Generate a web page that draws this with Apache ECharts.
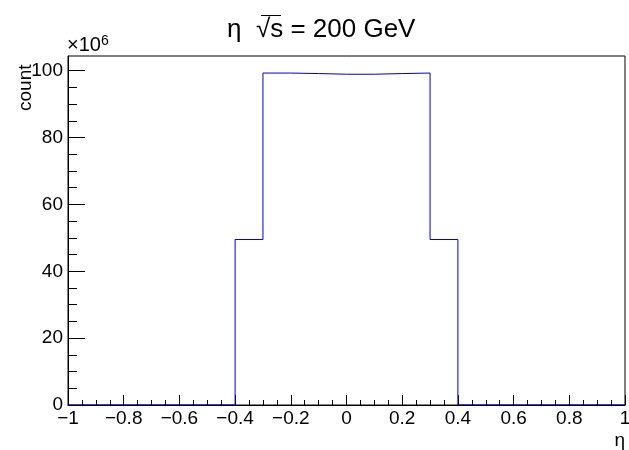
<!DOCTYPE html>
<html>
<head>
<meta charset="utf-8">
<title>eta</title>
<script src="https://cdn.jsdelivr.net/npm/echarts@6/dist/echarts.min.js"></script>
<style>
  html, body { margin: 0; padding: 0; background: #fff; }
  #chart { width: 629px; height: 450px; }
</style>
</head>
<body>
<div id="chart"></div>
<script>
// histogram bins (low edges) and counts in units of 10^6
const binLow = [-1, -0.9, -0.8, -0.7, -0.6, -0.5, -0.4, -0.3, -0.2, -0.1, 0, 0.1, 0.2, 0.3, 0.4, 0.5, 0.6, 0.7, 0.8, 0.9];
const binHigh = 1;
const counts = [0, 0, 0, 0, 0, 0, 49.5, 99.3, 99.15, 98.95, 98.95, 99.15, 99.3, 49.5, 0, 0, 0, 0, 0, 0];

const yMajor = [0, 20, 40, 60, 80, 100];
const yMinor = [5, 10, 15, 25, 30, 35, 45, 50, 55, 65, 70, 75, 85, 90, 95];

const font = 'Liberation Sans, Arial, sans-serif';

// step points: each bin's low edge, plus the closing edge
const stepData = binLow.map((x, i) => [x, counts[i]]);
stepData.push([binHigh, counts[counts.length - 1]]);

const chart = echarts.init(document.getElementById('chart'));

const yBase = {
  type: 'value',
  min: 0,
  max: 104.4,
  position: 'left',
  splitLine: { show: false },
};

const option = {
  animation: false,
  title: {
    text: 'η  √s = 200 GeV',
    left: 222,
    top: 12,
    textStyle: { fontFamily: font, fontSize: 26, fontWeight: 'normal', color: '#000' }
  },
  grid: {
    left: 68, right: 4, top: 56, bottom: 45,
    show: true, borderColor: '#000', borderWidth: 1,
    outerBoundsMode: 'none'
  },
  xAxis: {
    type: 'value',
    min: -1,
    max: 1,
    interval: 0.2,
    name: 'η',
    nameLocation: 'end',
    nameGap: 0,
    nameTextStyle: {
      fontFamily: font, fontSize: 19, color: '#000',
      align: 'right', verticalAlign: 'top', padding: [26, 0, 0, 0]
    },
    axisLine: { onZero: false, lineStyle: { color: '#000', width: 1 } },
    axisTick: { inside: true, length: 10, lineStyle: { color: '#000' } },
    minorTick: { show: true, splitNumber: 4, length: 5, lineStyle: { color: '#000' } },
    splitLine: { show: false },
    axisLabel: {
      fontFamily: font, fontSize: 19, color: '#000', margin: 4,
      showMinLabel: true, showMaxLabel: true,
      formatter: v => String(Math.round(v * 10) / 10).replace('-', '−')
    }
  },
  yAxis: [
    Object.assign({}, yBase, {
      axisLine: { show: true, onZero: false, lineStyle: { color: '#000', width: 1 } },
      axisTick: { inside: true, length: 17, customValues: yMajor, lineStyle: { color: '#000' } },
      axisLabel: {
        customValues: yMajor,
        fontFamily: font, fontSize: 19, color: '#000', margin: 5
      }
    }),
    Object.assign({}, yBase, {
      axisLine: { show: false, onZero: false },
      axisTick: { inside: true, length: 9, customValues: yMinor, lineStyle: { color: '#000' } },
      axisLabel: { show: false }
    })
  ],
  graphic: [
    {
      // y axis title
      type: 'text',
      x: 35,
      y: 111,
      rotation: Math.PI / 2,
      style: {
        text: 'count',
        fontFamily: font, fontSize: 19, fill: '#000',
        align: 'left', verticalAlign: 'bottom'
      }
    },
    {
      type: 'text',
      left: 67,
      top: 34,
      style: {
        text: '×10{sup|6}',
        fontFamily: font, fontSize: 20, fill: '#000',
        rich: { sup: { fontFamily: font, fontSize: 14, verticalAlign: 'top', padding: [0, 0, 9, 0] } }
      }
    },
    {
      // overline of the square root in the title
      type: 'line',
      shape: { x1: 261, y1: 15.5, x2: 281, y2: 15.5 },
      style: { stroke: '#000', lineWidth: 1 }
    }
  ],
  series: [
    {
      type: 'line',
      step: 'end',
      data: stepData,
      showSymbol: false,
      symbol: 'none',
      lineStyle: { color: '#0000bb', width: 1 },
      z: 3
    }
  ]
};

chart.setOption(option);
</script>
</body>
</html>
